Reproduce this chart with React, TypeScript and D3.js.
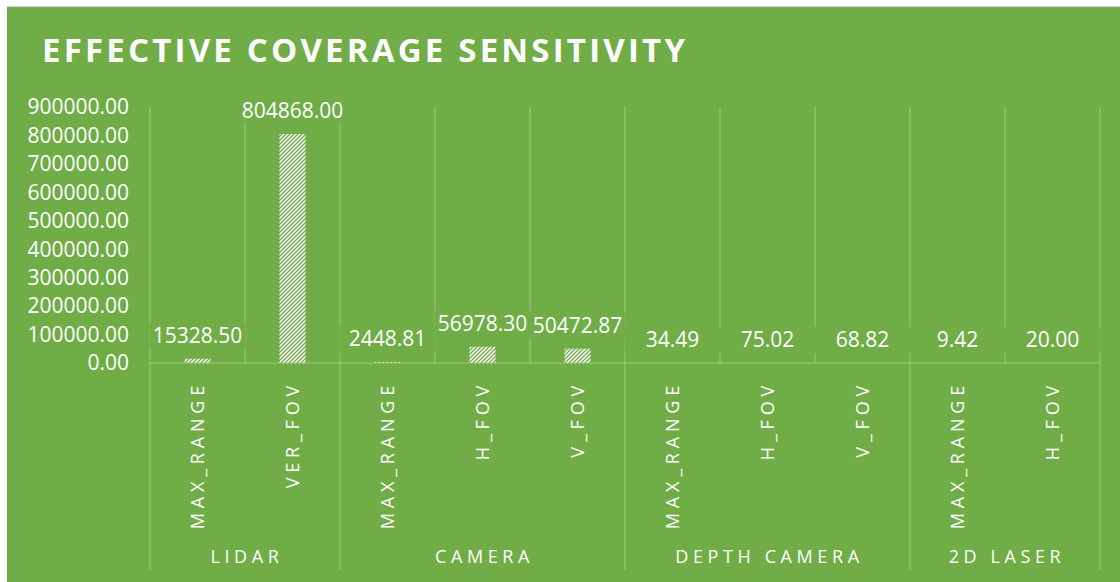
import React from "react";
import * as d3 from "d3";

// Sensor groups and the parameters measured within each
const groups = ["LIDAR", "CAMERA", "DEPTH CAMERA", "2D LASER"];
const groupParams = [
  ["MAX_RANGE", "VER_FOV"],
  ["MAX_RANGE", "H_FOV", "V_FOV"],
  ["MAX_RANGE", "H_FOV", "V_FOV"],
  ["MAX_RANGE", "H_FOV"],
];
const sensitivity = [
  [15328.5, 804868.0],
  [2448.81, 56978.3, 50472.87],
  [34.49, 75.02, 68.82],
  [9.42, 20.0],
];
const yTicks = [0, 100000, 200000, 300000, 400000, 500000, 600000, 700000, 800000, 900000];

const W = 1120;
const H = 582;
const BG = "#70AD47";
const GRID = "rgba(255,255,255,0.32)";
const FONT = "'Open Sans', 'DejaVu Sans', sans-serif";

export default function App() {
  const rows = groups.flatMap((g, gi) =>
    groupParams[gi].map((p, pi) => ({ key: `${g}|${p}`, group: g, param: p, value: sensitivity[gi][pi] }))
  );

  const x = d3.scaleBand<string>().domain(rows.map((r) => r.key)).range([150, 1100]).paddingInner(0).paddingOuter(0);
  const y = d3.scaleLinear().domain([0, 900000]).range([363, 107]);
  const bw = x.bandwidth();
  const barW = 26;

  // group extents along the category axis
  let idx = 0;
  const groupSpans = groups.map((g, gi) => {
    const first = rows[idx].key;
    idx += groupParams[gi].length;
    const last = rows[idx - 1].key;
    return { g, x0: x(first)!, x1: x(last)! + bw };
  });

  const boundaries = d3.range(rows.length + 1).map((i) => 150 + i * bw);

  return (
    <svg width={W} height={H} style={{ position: "absolute", left: 0, top: 0 }} fontFamily={FONT}>
      <defs>
        <pattern id="hatch" patternUnits="userSpaceOnUse" width={4} height={4}>
          <rect width={4} height={4} fill="#ffffff" />
          <path d="M-1,1 l2,-2 M0,4 l4,-4 M3,5 l2,-2" stroke={BG} strokeWidth={1.3} />
        </pattern>
      </defs>
      <rect x={7} y={7} width={W - 7} height={H - 7} fill={BG} />
      <line x1={7} x2={W} y1={7} y2={7} stroke="#9a9a9a" strokeWidth={0.8} />

      <text x={42} y={62} fill="#ffffff" fontSize={33} fontWeight={700} letterSpacing={3.2}>
        EFFECTIVE COVERAGE SENSITIVITY
      </text>

      {/* vertical gridlines in the plot */}
      {boundaries.map((bx, i) => (
        <line key={`g${i}`} x1={bx} x2={bx} y1={y(900000)} y2={y(0)} stroke={GRID} strokeWidth={1} />
      ))}
      {/* group dividers below the axis */}
      {groupSpans.map((s, i) => (
        <line key={`d${i}`} x1={s.x0} x2={s.x0} y1={y(0)} y2={570} stroke={GRID} strokeWidth={1} />
      ))}
      <line x1={1100} x2={1100} y1={y(0)} y2={570} stroke={GRID} strokeWidth={1} />
      <line x1={150} x2={1100} y1={y(0)} y2={y(0)} stroke={GRID} strokeWidth={1} />

      {/* y tick labels */}
      {yTicks.map((t) => (
        <text key={t} x={129} y={y(t)} dy="0.35em" textAnchor="end" fill="#ffffff" fontSize={21}>
          {t.toFixed(2)}
        </text>
      ))}

      {/* bars */}
      {rows.map((r) => (
        <rect
          key={r.key}
          x={x(r.key)! + bw / 2 - barW / 2}
          y={y(r.value)}
          width={barW}
          height={y(0) - y(r.value)}
          fill="url(#hatch)"
        />
      ))}

      {/* value labels */}
      {rows.map((r) => {
        const cx = x(r.key)! + bw / 2;
        const base = y(r.value) - 16;
        return (
          <g key={`l${r.key}`}>
            <rect x={cx - 48} y={base - 20} width={96} height={26} fill={BG} />
            <text x={cx} y={base} textAnchor="middle" fill="#ffffff" fontSize={21}>
              {r.value.toFixed(2)}
            </text>
          </g>
        );
      })}

      {/* category labels (rotated) */}
      {rows.map((r) => {
        const cx = x(r.key)! + bw / 2;
        return (
          <text
            key={`c${r.key}`}
            transform={`translate(${cx + 6.5},381) rotate(-90)`}
            textAnchor="end"
            fill="#ffffff"
            fontSize={18}
            letterSpacing={4.8}
          >
            {r.param}
          </text>
        );
      })}

      {/* group labels */}
      {groupSpans.map((s) => (
        <text
          key={`gl${s.g}`}
          x={(s.x0 + s.x1) / 2 + 2}
          y={563}
          textAnchor="middle"
          fill="#ffffff"
          fontSize={18}
          letterSpacing={4.6}
        >
          {s.g}
        </text>
      ))}
    </svg>
  );
}
